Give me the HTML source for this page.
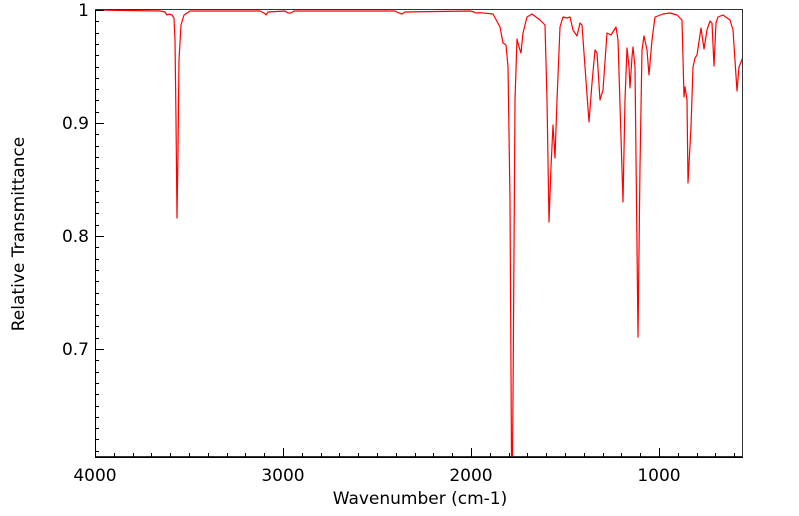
<!DOCTYPE html>
<html><head><style>
html,body{margin:0;padding:0;background:#fff;}
svg{display:block;font-family:"DejaVu Sans","Liberation Sans",sans-serif;}
</style></head><body>
<svg width="799" height="516" viewBox="0 0 799 516" xmlns="http://www.w3.org/2000/svg">
<rect x="0" y="0" width="799" height="516" fill="#fff"/>
<defs><clipPath id="c"><rect x="95" y="10" width="648" height="447"/></clipPath></defs>
<path clip-path="url(#c)" fill="none" stroke="#ff0000" stroke-width="1.2" stroke-linejoin="round" d="
M95,10 L160,11 L165,12 L167,15 L169,14 L172,15 L174,18 L175,40 L176,120 L177,218 L178,150 L179,60 L181,25 L184,15 L190,11 L260,11 L264,13 L266,15 L268,12 L285,11 L288,13 L291,13 L294,11 L395,11 L399,13 L402,14 L405,12 L470,11 L474,12 L476,13 L480,12.7 L493,14 L500,27 L503,43 L506,45 L508,67 L510,200 L511.5,457 L512.5,457 L513,400 L515,100 L517,39 L519,47 L521,53 L523,33 L527,17 L532,14 L540,20 L545,25 L547,100 L549,222 L551,167 L553,125 L555,158 L557,100 L560,27 L563,17 L567,18 L570,17 L573,30 L577,36 L580,23 L582,25 L585,67 L589,122 L592,83 L595,50 L597,53 L600,100 L603,90 L607,33 L611,35 L616,27 L618,40 L623,202 L625,100 L627,48 L629,67 L630,88 L632,57 L633,47 L635,67 L638,337 L640,167 L642,50 L644,36 L647,50 L649,75 L652,40 L655,17 L663,14 L670,13 L677,15 L682,20 L684,97 L685,87 L687,100 L688,183 L691,127 L693,67 L695,58 L697,55 L701,28 L704,49 L707,30 L710,21 L712,23 L714,66 L716,23 L718,17 L723,15 L730,20 L733,30 L737,91 L739,67 L743,57"/>
<g stroke="#000" stroke-width="1" fill="none">
<rect x="95.5" y="9.5" width="647" height="447" stroke="#333"/>
<path d="M95,457.5H743 M95.5,10V457"/>
</g>
<g stroke="#000" stroke-width="1" id="xt"></g>
<g stroke="#000" stroke-width="1" id="yt"></g>
<g font-size="17" fill="#000" text-anchor="middle">
<text x="95" y="481">4000</text>
<text x="283" y="481">3000</text>
<text x="471" y="481">2000</text>
<text x="659" y="481">1000</text>
<text x="420" y="504">Wavenumber (cm-1)</text>
</g>
<g font-size="17" fill="#000" text-anchor="end">
<text x="89" y="16">1</text>
<text x="89" y="129">0.9</text>
<text x="89" y="242">0.8</text>
<text x="89" y="355">0.7</text>
</g>
<text x="24" y="234" font-size="17" text-anchor="middle" transform="rotate(-90 24 234)">Relative Transmittance</text>
<script>
var ns="http://www.w3.org/2000/svg";
var xt=document.getElementById("xt"),yt=document.getElementById("yt");
for(var w=4000;w>=560;w-=100){var x=95+(4000-w)*0.188;var L=(w%1000==0)?9:4;var l=document.createElementNS(ns,"line");x=Math.round(x)+0.5;l.setAttribute("x1",x);l.setAttribute("x2",x);l.setAttribute("y1",457);l.setAttribute("y2",457-L);xt.appendChild(l);}
for(var i=0;i<=39;i++){var v=1-i*0.01;var y=10+i*11.3;var L=(i%10==0)?9:4;var l=document.createElementNS(ns,"line");y=Math.round(y)+0.5;l.setAttribute("x1",95);l.setAttribute("x2",95+L);l.setAttribute("y1",y);l.setAttribute("y2",y);yt.appendChild(l);}
</script>
</svg>
</body></html>
